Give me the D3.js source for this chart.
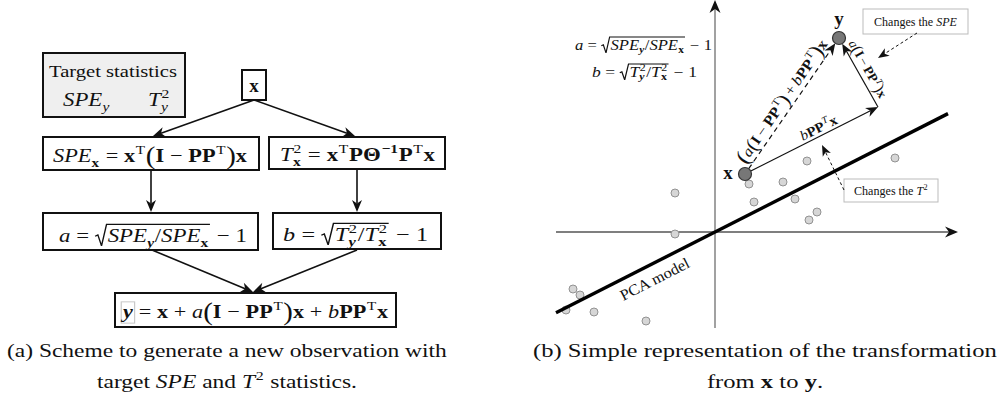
<!DOCTYPE html>
<html>
<head>
<meta charset="utf-8">
<script src="https://cdn.jsdelivr.net/npm/d3@7"></script>
<style>
  html, body { margin: 0; padding: 0; background: #fff; overflow: hidden; }
</style>
</head>
<body>
<svg id="fig" width="1001" height="396"></svg>
<script>
// ---- data: sample observations in the (PC-space) plane ----
const scatterX = [4.6, 9.0, 1.7, 3.4, -2.0, 1.95, 4.0, 5.1, 4.7, -2.0, -7.1, -6.75, -7.45, -6.05, -3.45];
const scatterY = [3.55, 3.7, 2.4, 2.5, 1.95, 1.5, 1.65, 1.0, 0.6, -0.1, -2.85, -3.15, -3.9, -4.0, -4.45];
// original observation x and generated observation y
const obsNames = ["x", "y"];
const obsX = [1.5, 6.2];
const obsY = [2.9, 9.7];
// x + bPP^T x (end of the move along the model)
const projX = [8.15];
const projY = [6.25];
// PCA model direction and drawn extent
const pcaSlope = [0.508];
const pcaRange = [-7.95, 11.65];
// plot extents of the two axes
const axisXRange = [-7.95, 12.15];
const axisYRange = [-4.8, 11.6];

const svg = d3.select("#fig");
const SERIF = "'Liberation Serif','Times New Roman',serif";
const INK = "#111";

// ---- small inline-math layout: runs of text with sub/superscripts and radicals ----
function layout(parent, items, fs, family) {
  const g = parent.append("g");
  let x = 0;
  function put(t, st, size, y, xx) {
    const el = g.append("text")
      .attr("x", xx).attr("y", y)
      .attr("font-family", family).attr("font-size", size)
      .attr("font-style", st.includes("i") ? "italic" : "normal")
      .attr("font-weight", st.includes("b") ? "bold" : "normal")
      .attr("fill", INK)
      .style("white-space", "pre")
      .text(t);
    return el.node().getComputedTextLength();
  }
  function run(list) {
    list.forEach(it => {
      if (it.sqrt) {
        const x0 = x;
        x += 0.55 * fs;
        run(it.sqrt);
        const top = -0.93 * fs;
        g.append("path")
          .attr("d", `M${x0},${-0.3 * fs}L${x0 + 0.12 * fs},${-0.37 * fs}L${x0 + 0.28 * fs},${0.2 * fs}L${x0 + 0.5 * fs},${top}L${x + 0.04 * fs},${top}`)
          .attr("fill", "none").attr("stroke", INK).attr("stroke-width", Math.max(1, fs * 0.06));
        x += 0.08 * fs;
        return;
      }
      const pad = (it.pad || 0) * fs;
      x += pad;
      const w = put(it.t, it.s || "", fs * (it.k || 1), (it.dy || 0) * fs, x);
      if (it.box) {
        g.insert("rect", "text")
          .attr("x", x - 1.5).attr("y", -0.85 * fs).attr("width", w + 3).attr("height", 1.12 * fs)
          .attr("fill", "none").attr("stroke", "#c8c8c8").attr("stroke-width", 1);
      }
      let ws = 0, wb = 0;
      if (it.sup) ws = put(it.sup, it.ss || "", fs * 0.68, -0.42 * fs, x + w + 0.03 * fs) + 0.06 * fs;
      if (it.sub) wb = put(it.sub, it.bs || "", fs * 0.68, 0.24 * fs, x + w + 0.01 * fs) + 0.04 * fs;
      x += w + Math.max(ws, wb) + pad;
    });
  }
  run(items);
  return { g, w: x };
}

function placeFit(parent, items, fs, x0, x1, base) {
  const r = layout(parent, items, fs, SERIF);
  const sx = (x1 - x0) / r.w;
  r.g.attr("transform", `translate(${x0},${base}) scale(${sx},1)`);
  return sx;
}
function placeCenter(parent, items, fs, cx, base, sx = 1) {
  const r = layout(parent, items, fs, SERIF);
  r.g.attr("transform", `translate(${cx - r.w * sx / 2},${base}) scale(${sx},1)`);
}
function placeRot(parent, items, fs, cx, cy, ang, len) {
  const r = layout(parent, items, fs, SERIF);
  const sx = len ? len / r.w : 1;
  r.g.attr("transform", `translate(${cx},${cy}) rotate(${ang}) scale(${sx},1) translate(${-r.w / 2},0)`);
}

// stealth-style arrow: line + filled head with a notch at its back
function arrow(g, x1, y1, x2, y2, o = {}) {
  const L = o.L || 11, W = o.W || 4.5, notch = o.notch || 3;
  const a = Math.atan2(y2 - y1, x2 - x1), c = Math.cos(a), s = Math.sin(a);
  const pt = (u, v) => [x2 + u * c - v * s, y2 + u * s + v * c];
  const back = pt(-L + notch, 0);
  g.append("line")
    .attr("x1", x1).attr("y1", y1).attr("x2", back[0]).attr("y2", back[1])
    .attr("stroke", o.color || INK).attr("stroke-width", o.width || 1.5)
    .attr("stroke-dasharray", o.dash || null);
  const p = [pt(0, 0), pt(-L, -W), back, pt(-L, W)];
  g.append("path").attr("d", "M" + p.join("L") + "Z").attr("fill", o.head || INK);
}

const PAD = 0.26;

// =================== (a) flow scheme ===================
const left = svg.append("g");
const boxes = [
  { x: 43, y: 53, w: 142, h: 64, fill: "#efefef" },
  { x: 242, y: 70, w: 24, h: 30 },
  { x: 43, y: 137, w: 216, h: 33 },
  { x: 269, y: 137, w: 176, h: 32 },
  { x: 43, y: 213, w: 215, h: 37 },
  { x: 273, y: 213, w: 168, h: 36 },
  { x: 115, y: 293, w: 281, h: 34 }
];
left.selectAll("rect.box").data(boxes).join("rect").attr("class", "box")
  .attr("x", d => d.x).attr("y", d => d.y).attr("width", d => d.w).attr("height", d => d.h)
  .attr("fill", d => d.fill || "#fff").attr("stroke", INK).attr("stroke-width", 2);

const flow = [[254, 100, 153, 136], [254, 100, 355, 136], [151, 170, 151, 212],
              [357, 169, 357, 212], [152, 250, 253, 292], [357, 250, 253, 292]];
flow.forEach(f => arrow(left, f[0], f[1], f[2], f[3], { width: 1.6, L: 12, W: 5, notch: 3.5 }));

placeFit(left, [{ t: "Target statistics" }], 17, 49, 177, 77);
placeFit(left, [{ t: "SPE", s: "i", sub: "y", bs: "i" }], 19, 63, 110, 106);
placeFit(left, [{ t: "T", s: "i", sup: "2", sub: "y", bs: "i" }], 19, 148, 170, 106);
placeCenter(left, [{ t: "x", s: "b" }], 19, 254, 92);

placeFit(left, [
  { t: "SPE", s: "i", sub: "x", bs: "b" }, { t: "=", pad: PAD },
  { t: "x", s: "b", sup: "T" }, { t: "(", k: 1.3, dy: 0.08 }, { t: "I", s: "b" },
  { t: "−", pad: PAD }, { t: "PP", s: "b", sup: "T" }, { t: ")", k: 1.3, dy: 0.08 }, { t: "x", s: "b" }
], 19, 53, 247, 162);

placeFit(left, [
  { t: "T", s: "i", sup: "2", sub: "x", bs: "b" }, { t: "=", pad: PAD },
  { t: "x", s: "b", sup: "T" }, { t: "PΘ", s: "b", sup: "−1", ss: "b" },
  { t: "P", s: "b", sup: "T" }, { t: "x", s: "b" }
], 19, 280, 435, 161);

placeFit(left, [
  { t: "a", s: "i" }, { t: "=", pad: PAD },
  { sqrt: [{ t: "SPE", s: "i", sub: "y", bs: "bi" }, { t: "/" }, { t: "SPE", s: "i", sub: "x", bs: "b" }] },
  { t: "−", pad: PAD }, { t: "1" }
], 19, 59, 247, 242);

placeFit(left, [
  { t: "b", s: "i" }, { t: "=", pad: PAD },
  { sqrt: [{ t: "T", s: "i", sup: "2", sub: "y", bs: "bi" }, { t: "/" }, { t: "T", s: "i", sup: "2", sub: "x", bs: "b" }] },
  { t: "−", pad: PAD }, { t: "1" }
], 19, 283, 428, 241);

placeFit(left, [
  { t: "y", s: "bi", box: true }, { t: "=", pad: PAD }, { t: "x", s: "b" }, { t: "+", pad: PAD },
  { t: "a", s: "i" }, { t: "(", k: 1.3, dy: 0.08 }, { t: "I", s: "b" }, { t: "−", pad: PAD },
  { t: "PP", s: "b", sup: "T" }, { t: ")", k: 1.3, dy: 0.08 }, { t: "x", s: "b" }, { t: "+", pad: PAD },
  { t: "b", s: "i" }, { t: "PP", s: "b", sup: "T" }, { t: "x", s: "b" }
], 19, 123, 388, 318);

// =================== (b) geometric picture ===================
const right = svg.append("g");
const xS = d3.scaleLinear().domain(axisXRange).range([556, 958]);
const yS = d3.scaleLinear().domain(axisYRange).range([328, 0]);

// axes through the origin
arrow(right, xS(0), yS(axisYRange[0]), xS(0), yS(axisYRange[1]),
  { color: "#8a8a8a", width: 1.6, L: 13, W: 5.5, notch: 4 });
arrow(right, xS(axisXRange[0]), yS(0), xS(axisXRange[1]), yS(0),
  { color: "#555", width: 1.3, L: 13, W: 5.5, notch: 4 });

// sample cloud
right.selectAll("circle.pt").data(scatterX.map((v, i) => [v, scatterY[i]])).join("circle")
  .attr("class", "pt").attr("cx", d => xS(d[0])).attr("cy", d => yS(d[1])).attr("r", 4)
  .attr("fill", "#d6d6d6").attr("stroke", "#929292").attr("stroke-width", 1);

// PCA model line
right.append("path")
  .datum(pcaRange.map(v => [v, pcaSlope[0] * v]))
  .attr("d", d3.line().x(d => xS(d[0])).y(d => yS(d[1])))
  .attr("stroke", "#000").attr("stroke-width", 3.4).attr("fill", "none");

const modelAng = Math.atan2(yS(pcaSlope[0] * 5) - yS(0), xS(5) - xS(0)) * 180 / Math.PI;
{
  const t = -3.35, px = xS(t), py = yS(pcaSlope[0] * t);
  const a = modelAng * Math.PI / 180;
  // baseline sits well below the model line
  placeRot(right, [{ t: "PCA model" }], 15.5, px - Math.sin(a) * 20, py + Math.cos(a) * 20, modelAng, 76);
}

// transformation vectors
const R = 6.5;
const X = [xS(obsX[0]), yS(obsY[0])], Y = [xS(obsX[1]), yS(obsY[1])], B = [xS(projX[0]), yS(projY[0])];
function toward(p, q, d) {
  const dx = q[0] - p[0], dy = q[1] - p[1], l = Math.hypot(dx, dy);
  return [p[0] + dx / l * d, p[1] + dy / l * d];
}
{
  const s = toward(X, B, R), e = B;
  arrow(right, s[0], s[1], e[0], e[1], { width: 1.2, L: 12, W: 5, notch: 3.5 });
  const e2 = toward(Y, B, R);
  arrow(right, B[0], B[1], e2[0], e2[1], { width: 1.2, L: 12, W: 5, notch: 3.5 });
  const s3 = toward(X, Y, R), e3 = toward(Y, X, R);
  arrow(right, s3[0], s3[1], e3[0], e3[1], { width: 1.2, dash: "5,4", L: 12, W: 5, notch: 3.5 });
}

// observation markers
right.selectAll("circle.obs").data(obsNames).join("circle").attr("class", "obs")
  .attr("cx", (d, i) => xS(obsX[i])).attr("cy", (d, i) => yS(obsY[i])).attr("r", R)
  .attr("fill", "#777").attr("stroke", "#333").attr("stroke-width", 1.2);
placeCenter(right, [{ t: obsNames[0], s: "b" }], 19, X[0] - 17, X[1] + 5);
placeCenter(right, [{ t: obsNames[1], s: "b" }], 19, Y[0], Y[1] - 13);

// labels along the vectors
function along(P, Q, frac, off) {
  const dx = Q[0] - P[0], dy = Q[1] - P[1], l = Math.hypot(dx, dy);
  const ang = Math.atan2(dy, dx);
  const nx = Math.sin(ang), ny = -Math.cos(ang);
  return { x: P[0] + dx * frac + nx * off, y: P[1] + dy * frac + ny * off, a: ang * 180 / Math.PI };
}
{
  const p = along(X, B, 0.58, 3.5);
  placeRot(right, [{ t: "b", s: "i" }, { t: "PP", s: "b", sup: "T", ss: "i" }, { t: "x", s: "b" }], 14, p.x, p.y, p.a, 40);
  const q = along(Y, B, 0.52, 5.5);
  placeRot(right, [{ t: "a", s: "i" }, { t: "(", k: 1.3, dy: 0.08 }, { t: "I", s: "b" }, { t: "−", pad: 0.18 },
    { t: "PP", s: "b", sup: "T", ss: "i" }, { t: ")", k: 1.3, dy: 0.08 }, { t: "x", s: "b" }], 13, q.x, q.y, q.a, 64);
  const r = along(X, Y, 0.49, 5.5);
  placeRot(right, [{ t: "(", k: 1.45, dy: 0.1 }, { t: "a", s: "i" }, { t: "(", k: 1.3, dy: 0.08 }, { t: "I", s: "b" },
    { t: "−", pad: 0.2 }, { t: "PP", s: "b", sup: "T" }, { t: ")", k: 1.3, dy: 0.08 }, { t: "+", pad: 0.2 },
    { t: "b", s: "i" }, { t: "PP", s: "b", sup: "T" }, { t: ")", k: 1.45, dy: 0.1 }, { t: "x", s: "b" }], 15, r.x, r.y, r.a, 146);
}

// formulas in the corner
placeFit(right, [
  { t: "a", s: "i" }, { t: "=", pad: PAD },
  { sqrt: [{ t: "SPE", s: "i", sub: "y", bs: "bi" }, { t: "/" }, { t: "SPE", s: "i", sub: "x", bs: "b" }] },
  { t: "−", pad: PAD }, { t: "1" }
], 14, 575, 712, 50);
placeFit(right, [
  { t: "b", s: "i" }, { t: "=", pad: PAD },
  { sqrt: [{ t: "T", s: "i", sup: "2", sub: "y", bs: "bi" }, { t: "/" }, { t: "T", s: "i", sup: "2", sub: "x", bs: "b" }] },
  { t: "−", pad: PAD }, { t: "1" }
], 14, 592, 697, 77);

// callouts
right.append("rect").attr("x", 863).attr("y", 9).attr("width", 105).attr("height", 25)
  .attr("fill", "#fff").attr("stroke", "#bbb").attr("stroke-width", 1);
placeFit(right, [{ t: "Changes the " }, { t: "SPE", s: "i" }], 12.5, 874, 957, 26);
arrow(right, 917, 33, 878, 58, { width: 1, dash: "3,2.5", L: 11, W: 4.5, notch: 3 });

right.append("rect").attr("x", 844).attr("y", 179).attr("width", 94).attr("height", 23)
  .attr("fill", "#fff").attr("stroke", "#bbb").attr("stroke-width", 1);
placeFit(right, [{ t: "Changes the " }, { t: "T", s: "i", sup: "2" }], 12.5, 854, 928, 195);
arrow(right, 844, 190, 822, 145, { width: 1, dash: "3,2.5", L: 11, W: 4.5, notch: 3 });

// =================== captions ===================
const cap = svg.append("g");
{
  const sa = placeFit(cap, [{ t: "(a) Scheme to generate a new observation with" }], 18, 7, 447, 357);
  placeCenter(cap, [{ t: "target " }, { t: "SPE", s: "i" }, { t: " and " }, { t: "T", s: "i", sup: "2" }, { t: " statistics." }],
    18, 227, 388, sa);
  const sb = placeFit(cap, [{ t: "(b) Simple representation of the transformation" }], 18, 533, 997, 357);
  placeCenter(cap, [{ t: "from " }, { t: "x", s: "b" }, { t: " to " }, { t: "y", s: "b" }, { t: "." }], 18, 765, 388, sb);
}
</script>
</body>
</html>
